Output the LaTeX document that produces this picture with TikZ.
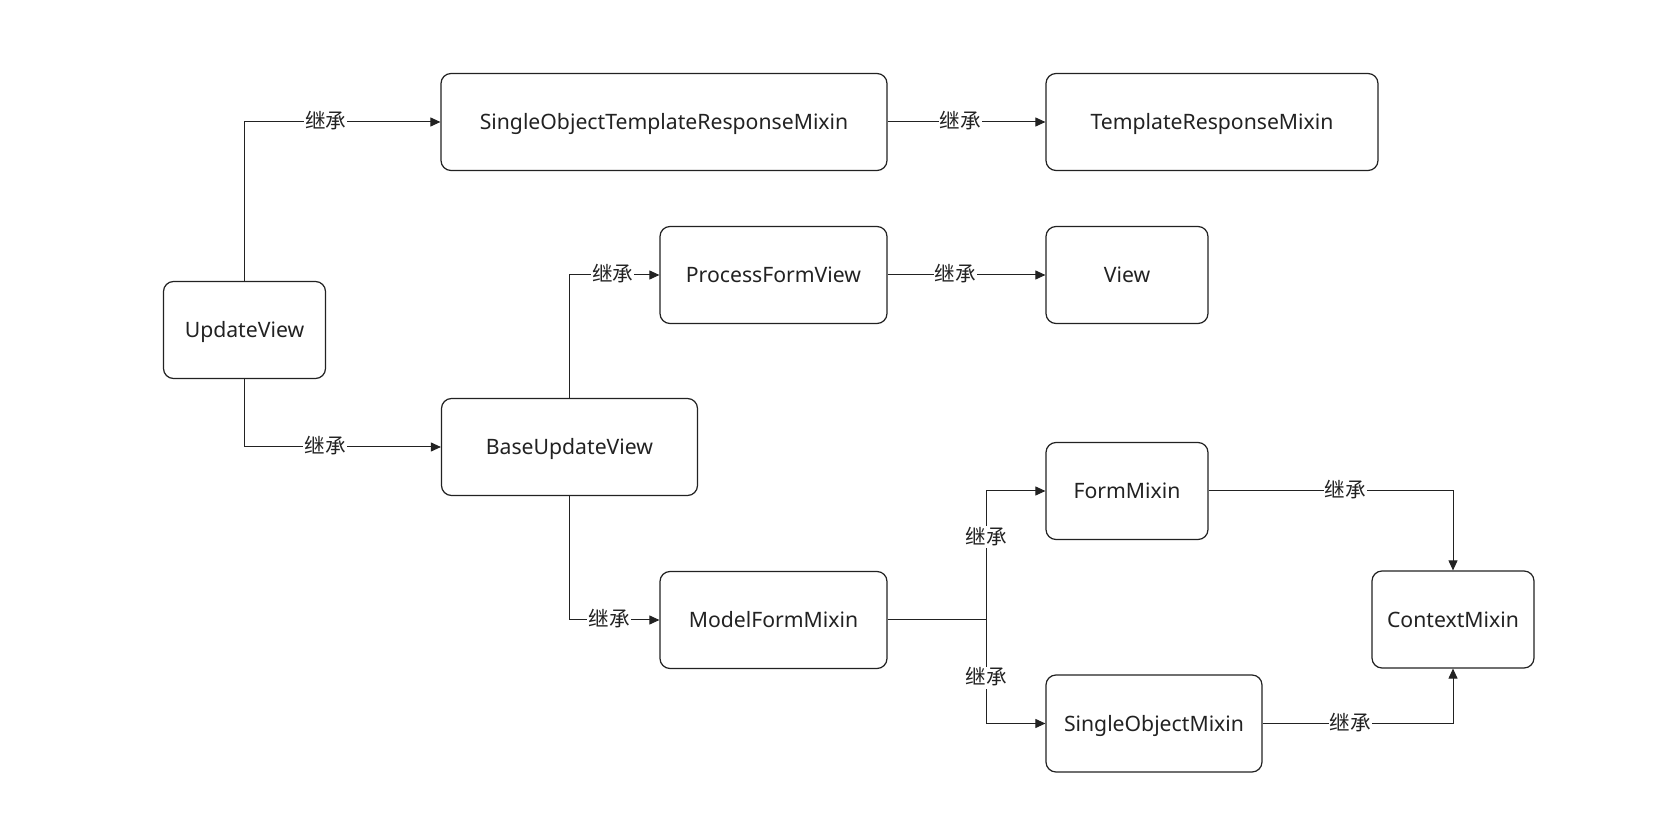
\documentclass[tikz,border=0pt]{standalone}
\usepackage{fontspec}
\setmainfont{Noto Sans}
\newfontfamily\cjk{Noto Sans CJK SC}
\usetikzlibrary{arrows.meta}
\definecolor{ink}{HTML}{222222}
\tikzset{
  cls/.style={draw=ink, line width=0.6pt, rounded corners=5pt, inner sep=0pt,
    minimum height=48.5pt, text height=10pt, text depth=2pt,
    font=\fontsize{10.6}{12}\selectfont, text=ink},
  conn/.style={draw=ink, line width=0.5pt, -{Triangle[length=5pt,width=4.5pt]}},
  plain/.style={draw=ink, line width=0.5pt},
  lbl/.style={fill=white, inner sep=0.5pt, text height=8.5pt, text depth=1.5pt,
    font=\cjk\fontsize{10.3}{11}\selectfont, text=ink}
}
\begin{document}
\begin{tikzpicture}[x=0.5pt,y=-0.5pt]
\useasboundingbox (0,0) rectangle (1662,828);
\node[cls, minimum width=81pt]  (uv)    at (244.5,330) {UpdateView};
\node[cls, minimum width=223pt] (sotrm) at (664,122) {SingleObjectTemplateResponseMixin};
\node[cls, minimum width=166pt] (trm)   at (1212,122) {TemplateResponseMixin};
\node[cls, minimum width=113.5pt] (pfv) at (773.5,275) {ProcessFormView};
\node[cls, minimum width=81pt]  (view)  at (1127,275) {View};
\node[cls, minimum width=128pt] (buv)   at (569.5,447) {BaseUpdateView};
\node[cls, minimum width=113.5pt] (mfm) at (773.5,620) {ModelFormMixin};
\node[cls, minimum width=81pt]  (fm)    at (1127,491) {FormMixin};
\node[cls, minimum width=108pt] (som)   at (1154,723.5) {SingleObjectMixin};
\node[cls, minimum width=81pt]  (cm)    at (1453,619.5) {ContextMixin};
\coordinate (j) at (986,620);

\draw[conn] (uv.north) |- (sotrm.west) node[lbl, pos=0.707] {继承};
\draw[conn] (uv.south) |- (buv.west) node[lbl, pos=0.705] {继承};
\draw[conn] (sotrm.east) -- (trm.west) node[lbl, pos=0.46] {继承};
\draw[conn] (buv.north) |- (pfv.west) node[lbl, pos=0.74] {继承};
\draw[conn] (pfv.east) -- (view.west) node[lbl, pos=0.43] {继承};
\draw[conn] (buv.south) |- (mfm.west) node[lbl, pos=0.72] {继承};
\draw[plain] (mfm.east) -- (j);
\draw[conn] (j) |- (fm.west) node[lbl, pos=0.32] {继承};
\draw[conn] (j) |- (som.west) node[lbl, pos=0.28] {继承};
\draw[conn] (fm.east) -| (cm.north) node[lbl, pos=0.28] {继承};
\draw[conn] (som.east) -| (cm.south) node[lbl, pos=0.23] {继承};
\end{tikzpicture}
\end{document}
